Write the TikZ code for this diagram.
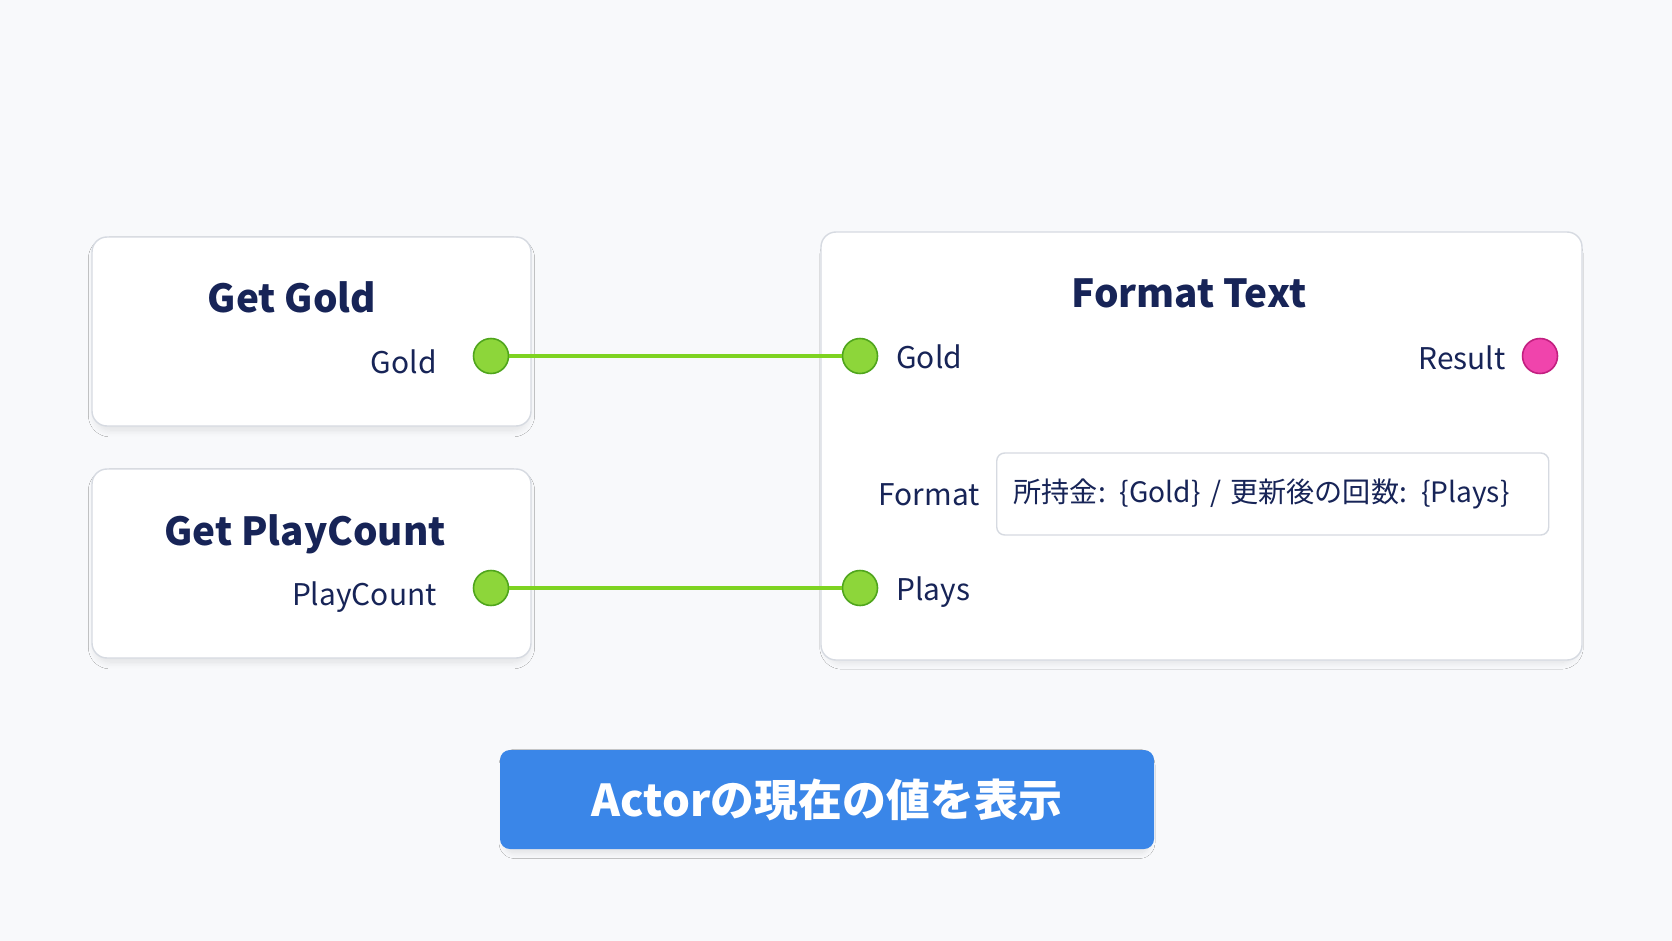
\documentclass[tikz,border=0pt]{standalone}
\usepackage{fontspec}
\setmainfont{Noto Sans CJK JP}
\usetikzlibrary{positioning,shadows.blur}
\definecolor{bgcol}{HTML}{F8F9FB}
\definecolor{navy}{HTML}{172457}
\definecolor{edgecol}{HTML}{D6DAE1}
\definecolor{wirecol}{HTML}{7ED321}
\definecolor{pinfill}{HTML}{8DD63A}
\definecolor{pinedge}{HTML}{4FA51C}
\definecolor{resfill}{HTML}{F044AC}
\definecolor{resedge}{HTML}{C21F80}
\definecolor{btncol}{HTML}{3A86E8}

\tikzset{
  nodebox/.style={draw=edgecol, line width=0.8pt, fill=white, rounded corners=3mm,
    blur shadow={shadow xshift=0mm, shadow yshift=-1.1mm, shadow scale=0.985,
      shadow blur radius=1.4mm, shadow blur steps=10, shadow opacity=10}},
  title/.style={font=\fontsize{22}{26}\selectfont\bfseries, text=navy, anchor=base, inner sep=0pt},
  port/.style={font=\fontsize{17}{21}\selectfont, text=navy, inner sep=0pt},
  pin/.style={circle, minimum size=7mm, inner sep=0pt, draw=pinedge, fill=pinfill, line width=0.9pt},
  respin/.style={pin, draw=resedge, fill=resfill},
  wire/.style={wirecol, line width=2.2pt},
  field/.style={draw=edgecol, line width=0.8pt, fill=white, rounded corners=1.6mm,
    font=\fontsize{16}{20}\selectfont, text=navy},
  button/.style={fill=btncol, rounded corners=2mm, text=white,
    font=\fontsize{25}{30}\selectfont\bfseries,
    blur shadow={shadow xshift=0mm, shadow yshift=-0.9mm, shadow scale=0.985,
      shadow blur radius=1.2mm, shadow blur steps=10, shadow opacity=10}}
}

\begin{document}
\begin{tikzpicture}[x=0.2mm,y=-0.2mm]
  \fill[bgcol] (0,0) rectangle (1672,941);
  \useasboundingbox (0,0) rectangle (1672,941);

  % get gold
  \node[nodebox, minimum width=87.8mm, minimum height=37.8mm] (gg) at (311.5,331.5) {};
  \node[title] (ggt) at (292,312) {Get Gold};
  \node[pin] (ggo) at (491,356) {};
  \node[port, anchor=base east] (ggl) at (437,373) {Gold};

  % get playcount
  \node[nodebox, minimum width=87.8mm, minimum height=37.8mm] (gp) at (311.5,563.5) {};
  \node[title] (gpt) at (305,545) {Get PlayCount};
  \node[pin] (gpo) at (491,588) {};
  \node[port, anchor=base east] (gpl) at (437,605) {PlayCount};

  % format text
  \node[nodebox, minimum width=152.2mm, minimum height=85.6mm] (ft) at (1201.5,446) {};
  \node[title] (ftt) at (1189,307) {Format Text};
  \node[pin] (fgi) at (860,356) {};
  \node[port, anchor=base west] (fgl) at (896,368) {Gold};
  \node[pin] (fpi) at (860,588) {};
  \node[port, anchor=base west] (fpl) at (896,600) {Plays};
  \node[respin] (fro) at (1540,356) {};
  \node[port, anchor=base east] (frl) at (1506,369) {Result};
  \node[port, anchor=base east] (ffl) at (980,505) {Format};
  \node[field, anchor=west, minimum height=16.4mm, inner xsep=3.4mm,
        text width=103.6mm, align=left] (fld) at (996,494)
        {所持金: \{Gold\} / 更新後の回数: \{Plays\}};

  % wires
  \draw[wire] (ggo.east) -- (fgi.west);
  \draw[wire] (gpo.east) -- (fpi.west);

  % caption
  \node[button, minimum width=130.8mm, minimum height=19.8mm] (btn) at (827,799.5) {Actorの現在の値を表示};
\end{tikzpicture}
\end{document}
